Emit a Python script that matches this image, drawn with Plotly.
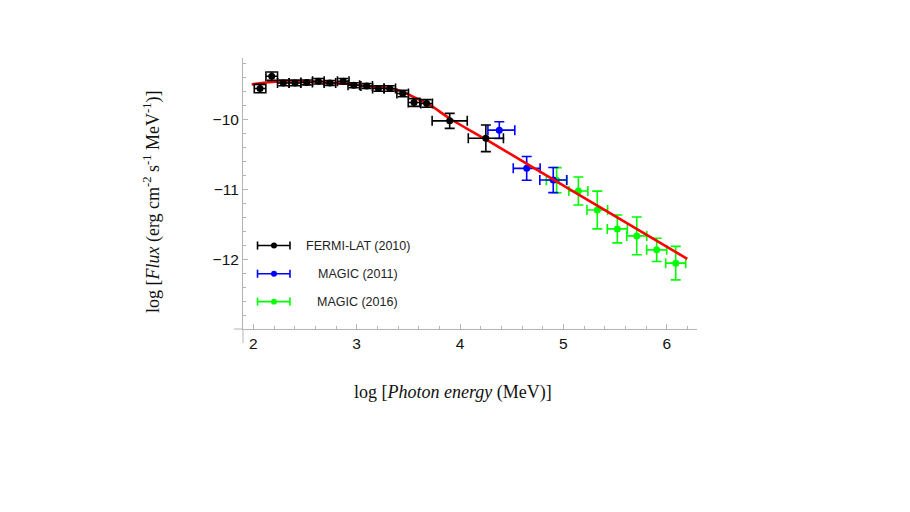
import plotly.graph_objects as go

# FERMI-LAT (2010)
fermi_x = [2.065, 2.178, 2.29, 2.403, 2.516, 2.629, 2.741, 2.87, 2.972, 3.097,
           3.21, 3.32, 3.445, 3.555, 3.677, 3.90, 4.25]
fermi_y = [-9.557, -9.381, -9.477, -9.477, -9.47, -9.453, -9.477, -9.453, -9.51, -9.52,
           -9.557, -9.557, -9.629, -9.757, -9.771, -10.02, -10.27]
fermi_ex = [0.056] * 15 + [0.17, 0.17]
fermi_ey = [0.06, 0.06, 0.04, 0.04, 0.035, 0.04, 0.035, 0.04, 0.035, 0.035,
            0.04, 0.04, 0.045, 0.055, 0.055, 0.107, 0.19]

# MAGIC (2011)
magic11_x = [4.38, 4.645, 4.902]
magic11_y = [-10.153, -10.70, -10.867]
magic11_ex_plus = [0.15, 0.13, 0.13]
magic11_ex_minus = [0.11, 0.13, 0.13]
magic11_ey = [0.12, 0.17, 0.18]

# MAGIC (2016)
magic16_x = [4.935, 5.145, 5.328, 5.522, 5.71, 5.903, 6.087]
magic16_y = [-10.87, -11.024, -11.296, -11.567, -11.667, -11.867, -12.057]
magic16_ex = [0.1, 0.092, 0.1, 0.097, 0.097, 0.097, 0.097]
magic16_ey = [0.18, 0.2, 0.27, 0.2, 0.27, 0.167, 0.24]

# fit
fit_x = [1.984, 2.178, 2.629, 2.87, 3.097, 3.32, 3.45, 3.58, 3.71, 3.9, 4.25, 4.9, 5.5, 6.199]
fit_y = [-9.50, -9.463, -9.463, -9.486, -9.52, -9.557, -9.606, -9.70, -9.796, -9.986,
         -10.286, -10.857, -11.385, -11.996]

x_ticks = [2, 3, 4, 5, 6]
y_ticks = [-12, -11, -10]

legend_names = ["FERMI-LAT (2010)", "MAGIC (2011)", "MAGIC (2016)"]
legend_colors = ["#000000", "#0000ff", "#00ff00"]

fig = go.Figure()


def err_trace(x, y, ex_plus, ex_minus, ey, color, size):
    return go.Scatter(
        x=x, y=y, mode="markers",
        marker=dict(color=color, size=size),
        error_x=dict(type="data", array=ex_plus, arrayminus=ex_minus, symmetric=False,
                     color=color, thickness=1.6, width=5),
        error_y=dict(type="data", array=ey, color=color, thickness=1.6, width=5),
        showlegend=False, hoverinfo="skip",
    )


fig.add_trace(err_trace(magic16_x, magic16_y, magic16_ex, magic16_ex, magic16_ey, "#00ff00", 7))
fig.add_trace(err_trace(magic11_x, magic11_y, magic11_ex_plus, magic11_ex_minus, magic11_ey, "#0000ff", 7))
fig.add_trace(go.Scatter(x=fit_x, y=fit_y, mode="lines",
                         line=dict(color="#ff0000", width=2.6, shape="spline"),
                         showlegend=False, hoverinfo="skip"))
fig.add_trace(err_trace(fermi_x, fermi_y, fermi_ex, fermi_ex, fermi_ey, "#000000", 7))

# custom legend (paper coords)
leg_y = [0.308, 0.204, 0.101]
for name, col, ly in zip(legend_names, legend_colors, leg_y):
    fig.add_shape(type="line", xref="paper", yref="paper", x0=0.032, x1=0.1035, y0=ly, y1=ly,
                  line=dict(color=col, width=1.6))
    for cx in (0.032, 0.1035):
        fig.add_shape(type="line", xref="paper", yref="paper", x0=cx, x1=cx,
                      y0=ly - 0.015, y1=ly + 0.015, line=dict(color=col, width=1.6))
    fig.add_shape(type="circle", xref="paper", yref="paper",
                  x0=0.0683 - 0.0066, x1=0.0683 + 0.0066, y0=ly - 0.011, y1=ly + 0.011,
                  fillcolor=col, line=dict(color=col, width=0))
    fig.add_annotation(text=name, xref="paper", yref="paper", x=0.253, y=ly,
                       showarrow=False, xanchor="center", yanchor="middle",
                       font=dict(family="Liberation Sans", size=12.5, color="#222222"))

# axis overhangs (Mathematica-style crossing axes)
fig.add_shape(type="line", xref="paper", yref="paper", x0=-0.02, x1=0, y0=0, y1=0,
              line=dict(color="#b4b4b4", width=1))
fig.add_shape(type="line", xref="paper", yref="paper", x0=0, x1=0, y0=-0.052, y1=0,
              line=dict(color="#b4b4b4", width=1))

# axis titles
fig.add_annotation(text="log [<i>Photon energy</i> (MeV)]", xref="paper", yref="paper",
                   x=0.4626, y=-0.2325, showarrow=False, xanchor="center", yanchor="middle",
                   font=dict(family="Liberation Serif", size=18, color="#111111"))
fig.add_annotation(text="log [<i>Flux</i> (erg cm<sup>-2</sup> s<sup>-1</sup> MeV<sup>-1</sup>)]",
                   xref="paper", yref="paper", x=-0.2, y=0.469, textangle=-90,
                   showarrow=False, xanchor="center", yanchor="middle",
                   font=dict(family="Liberation Serif", size=18, color="#111111"))

axis_common = dict(
    showline=True, linecolor="#b4b4b4", linewidth=1, showgrid=False, zeroline=False,
    ticks="inside", ticklen=5, tickcolor="#b4b4b4", tickwidth=1,
    tickfont=dict(family="Liberation Sans", size=15.5, color="#111111"),
    minor=dict(dtick=0.2, tick0=0, ticks="inside", ticklen=3, tickcolor="#b4b4b4", tickwidth=1),
)
fig.update_xaxes(range=[1.9, 6.293], tickvals=x_ticks, ticktext=[str(v) for v in x_ticks],
                 **axis_common)
fig.update_yaxes(range=[-13, -9.12], tickvals=y_ticks,
                 ticktext=["\u2212" + str(-v) for v in y_ticks], **axis_common)

# the page body adds an 8px offset, so the margins are shifted to compensate
fig.update_layout(
    width=910, height=512,
    margin=dict(l=235, r=221, t=50, b=191),
    plot_bgcolor="white", paper_bgcolor="white",
)

fig.write_html("out.html")
